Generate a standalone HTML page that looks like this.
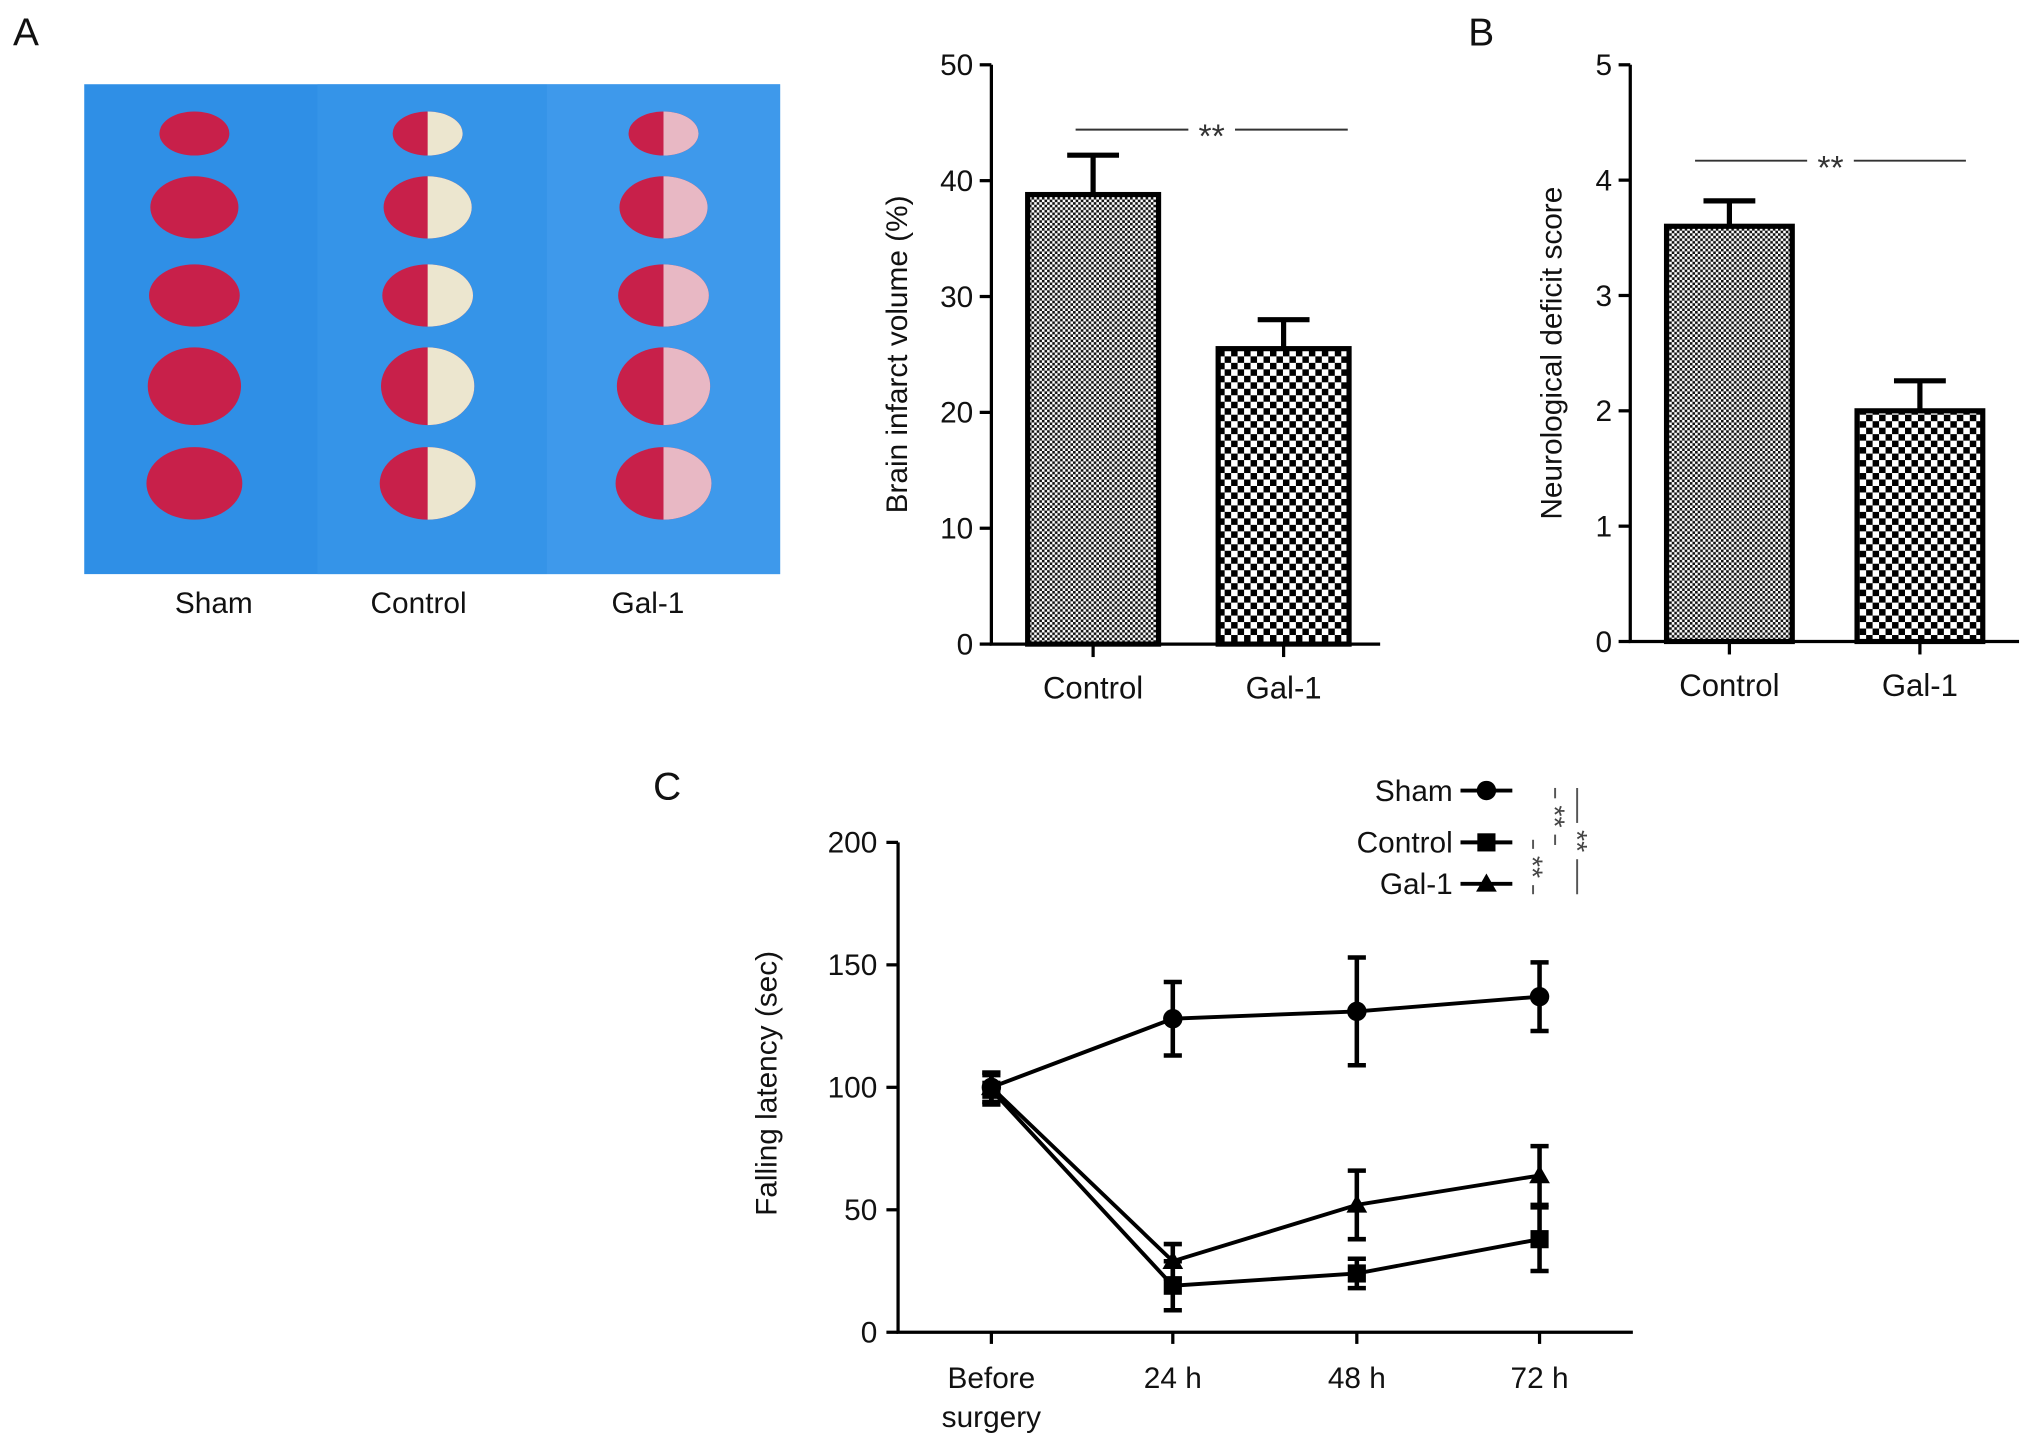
<!DOCTYPE html>
<html><head><meta charset="utf-8"><style>
html,body{margin:0;padding:0;background:#fff;}
svg{display:block;font-family:"Liberation Sans",Arial,sans-serif;}
</style></head><body>
<svg id="fig" width="2032" height="1445" viewBox="0 0 1568 1115" preserveAspectRatio="none">
<defs>
<pattern id="fine" width="4" height="4" patternUnits="userSpaceOnUse"><rect width="4" height="4" fill="#fff"/><rect width="2" height="2" fill="#111"/><rect x="2" y="2" width="2" height="2" fill="#111"/></pattern>
<pattern id="coarse" width="10" height="10" patternUnits="userSpaceOnUse"><rect width="10" height="10" fill="#fff"/><rect width="5" height="5" fill="#000"/><rect x="5" y="5" width="5" height="5" fill="#000"/></pattern>
</defs>
<g font-size="30" fill="#111">
<text x="10" y="35">A</text>
<text x="1133" y="35">B</text>
<text x="504" y="617">C</text>
</g>
<g id="photo">
<rect x="65" y="65" width="537" height="378" fill="#2f8fe6"/>
<rect x="245" y="65" width="177" height="378" fill="#3a97ea" opacity="0.6"/>
<rect x="422" y="65" width="180" height="378" fill="#4aa0ee" opacity="0.6"/>
</g>
<g font-size="23" fill="#111" text-anchor="middle">
<text x="165" y="473">Sham</text>
<text x="323" y="473">Control</text>
<text x="500" y="473">Gal-1</text>
</g>
<g id="chartA"></g>
<g id="chartB"></g>
<g id="chartC"></g>
</svg>
<script>
const NS="http://www.w3.org/2000/svg";
function mk(p,t,a){const e=document.createElementNS(NS,t);for(const k in a)e.setAttribute(k,a[k]);p.appendChild(e);return e;}
const sliceRows=[103,160,228,298,373];
const sliceSizes=[[27,17],[34,24],[35,24],[36,30],[37,28]];
const photo=document.getElementById('photo');
const colX=[152,330,512];
const whiteFrac=[0,0.5,0.35];
for(let c=0;c<3;c++)for(let r=0;r<5;r++){
 const [rx,ry]=sliceSizes[r];const cx=colX[c]-(c==0?2:0),cy=sliceRows[r];
 const s=mk(photo,'ellipse',{cx:cx,cy:cy,rx:rx,ry:ry,fill:'#c8204a'});
 
 
 if(whiteFrac[c]>0){
  const w=mk(photo,'path',{d:`M${cx} ${cy-ry} A${rx} ${ry} 0 0 1 ${cx} ${cy+ry} Z`,fill:c==1?'#ece6cf':'#e8b8c4'});
  
  
 }
}
const barCats=["Control","Gal-1"];
const infarctVals=[38.8,25.5];
const infarctErr=[3.4,2.5];
const infarctTicks=[0,10,20,30,40,50];
const scoreVals=[3.6,2.0];
const scoreErr=[0.22,0.26];
const scoreTicks=[0,1,2,3,4,5];
function barChart(g,o){
 const y=v=>o.y0-(v-o.min)/(o.max-o.min)*(o.y0-o.y1);
 o.vals.forEach((v,i)=>{
  const x=o.bx[i];
  const eb=mk(g,'path',{d:`M${x+o.bw/2} ${y(v)} V${y(v+o.err[i])} M${x+o.bw/2-20} ${y(v+o.err[i])} H${x+o.bw/2+20}`,stroke:'#000','stroke-width':4,fill:'none'});
  
  
  const b=mk(g,'rect',{x:x,y:y(v),width:o.bw,height:o.y0-y(v),fill:i==0?'url(#fine)':'url(#coarse)',stroke:'#000','stroke-width':4});
  
  
  const t=mk(g,'text',{x:x+o.bw/2,y:o.y0+42,'font-size':24,'text-anchor':'middle',fill:'#111'});t.textContent=o.cats[i];
  
  
  mk(g,'line',{x1:x+o.bw/2,x2:x+o.bw/2,y1:o.y0,y2:o.y0+10,stroke:'#000','stroke-width':2.5});
 });
 const ax=mk(g,'path',{d:`M${o.ax} ${o.y1} V${o.y0} H${o.xEnd}`,stroke:'#000','stroke-width':2.5,fill:'none'});
 
 
 o.ticks.forEach(v=>{
  mk(g,'line',{x1:o.ax-9,x2:o.ax,y1:y(v),y2:y(v),stroke:'#000','stroke-width':2.5});
  const t=mk(g,'text',{x:o.ax-14,y:y(v)+8,'font-size':23,'text-anchor':'end',fill:'#111'});t.textContent=v;
  
  
 });
 const yt=mk(g,'text',{transform:`translate(${o.tx},${(o.y0+o.y1)/2}) rotate(-90)`,'font-size':23,'text-anchor':'middle',fill:'#111'});yt.textContent=o.title;
 
 
 const sl=mk(g,'path',{d:`M${o.sig[0]} ${o.sig[2]} H${o.sig[1]}`,stroke:'#333','stroke-width':1.5});
 
 
 const cx=(o.sig[0]+o.sig[1])/2;
 mk(g,'rect',{x:cx-18,y:o.sig[2]-4,width:36,height:8,fill:'#fff'});
 const st=mk(g,'text',{x:cx,y:o.sig[2]+14,'font-size':26,'text-anchor':'middle',fill:'#333'});st.textContent='**';
 
 
}
barChart(document.getElementById('chartA'),{cats:barCats,vals:infarctVals,err:infarctErr,ticks:infarctTicks,min:0,max:50,y0:497,y1:50,ax:765,xEnd:1065,bx:[793,940],bw:101,tx:700,title:'Brain infarct volume (%)',sig:[830,1040,100]});
barChart(document.getElementById('chartB'),{cats:barCats,vals:scoreVals,err:scoreErr,ticks:scoreTicks,min:0,max:5,y0:495,y1:50,ax:1258,xEnd:1558,bx:[1286,1433],bw:97,tx:1205,title:'Neurological deficit score',sig:[1308,1517,124]});
const timeCats=["Before surgery","24 h","48 h","72 h"];
const shamVals=[100,128,131,137];
const shamErr=[6,15,22,14];
const controlVals=[99,19,24,38];
const controlErr=[6,10,6,13];
const gal1Vals=[100,29,52,64];
const gal1Err=[6,7,14,12];
const latTicks=[0,50,100,150,200];
(function(){
 const g=document.getElementById('chartC');
 const x0=693,y0=1028,y1=650;
 const px=[765,905,1047,1188];
 const y=v=>y0-v/200*(y0-y1);
 const ax=mk(g,'path',{d:`M${x0} ${y1} V${y0} H1260`,stroke:'#000','stroke-width':2.5,fill:'none'});
 
 
 latTicks.forEach(v=>{
  mk(g,'line',{x1:x0-9,x2:x0,y1:y(v),y2:y(v),stroke:'#000','stroke-width':2.5});
  const t=mk(g,'text',{x:x0-16,y:y(v)+8,'font-size':23,'text-anchor':'end',fill:'#111'});t.textContent=v;
  
  
 });
 timeCats.forEach((c,i)=>{
  mk(g,'line',{x1:px[i],x2:px[i],y1:y0,y2:y0+9,stroke:'#000','stroke-width':2.5});
  const parts=c==='Before surgery'?['Before','surgery']:[c];
  parts.forEach((p,j)=>{const t=mk(g,'text',{x:px[i],y:1071+j*30,'font-size':23,'text-anchor':'middle',fill:'#111'});t.textContent=p;
   
   });
 });
 const yt=mk(g,'text',{transform:`translate(599,836) rotate(-90)`,'font-size':23,'text-anchor':'middle',fill:'#111'});yt.textContent='Falling latency (sec)';
 
 
 const series=[['sham',shamVals,shamErr,'circle'],['control',controlVals,controlErr,'square'],['gal-1',gal1Vals,gal1Err,'triangle']];
 function marker(gg,type,cx,cy){
  if(type=='circle')return mk(gg,'circle',{cx:cx,cy:cy,r:7.5,fill:'#000'});
  if(type=='square')return mk(gg,'rect',{x:cx-7,y:cy-7,width:14,height:14,fill:'#000'});
  return mk(gg,'path',{d:`M${cx} ${cy-8} L${cx+8} ${cy+6} L${cx-8} ${cy+6} Z`,fill:'#000'});
 }
 series.forEach(([n,vals,err,m])=>{
  const sg=mk(g,'g',{});
  
  
  const l=mk(sg,'polyline',{points:vals.map((v,i)=>px[i]+','+y(v)).join(' '),fill:'none',stroke:'#000','stroke-width':3});
  
  
  vals.forEach((v,i)=>{
   const e=mk(sg,'path',{d:`M${px[i]} ${y(v-err[i])} V${y(v+err[i])} M${px[i]-7} ${y(v-err[i])} H${px[i]+7} M${px[i]-7} ${y(v+err[i])} H${px[i]+7}`,stroke:'#000','stroke-width':3.5,fill:'none'});
   
   
   const mm=marker(sg,m,px[i],y(v));
   
   
  });
 });
 const legY=[610,650,682],legN=['Sham','Control','Gal-1'],legM=['circle','square','triangle'];
 legN.forEach((n,i)=>{
  const lg=mk(g,'g',{});
  
  
  const t=mk(lg,'text',{x:1121,y:legY[i]+8,'font-size':23,'text-anchor':'end',fill:'#111'});t.textContent=n;
  mk(lg,'line',{x1:1127,x2:1167,y1:legY[i],y2:legY[i],stroke:'#000','stroke-width':3});
  marker(lg,legM[i],1147,legY[i]);
 });
 const br=[[1183,648,690],[1200,608,652],[1217,608,690]];
 br.forEach(([bx,a,b])=>{
  const bg=mk(g,'g',{});
  
  
  mk(bg,'line',{x1:bx,x2:bx,y1:a,y2:b,stroke:'#555','stroke-width':1.5});
  const m=(a+b)/2;
  mk(bg,'rect',{x:bx-6,y:m-14,width:12,height:28,fill:'#fff'});
  const t=mk(bg,'text',{transform:`translate(${bx-8},${m}) rotate(90)`,'font-size':22,'text-anchor':'middle',fill:'#444'});t.textContent='**';
 });
})();
</script>
</body></html>
